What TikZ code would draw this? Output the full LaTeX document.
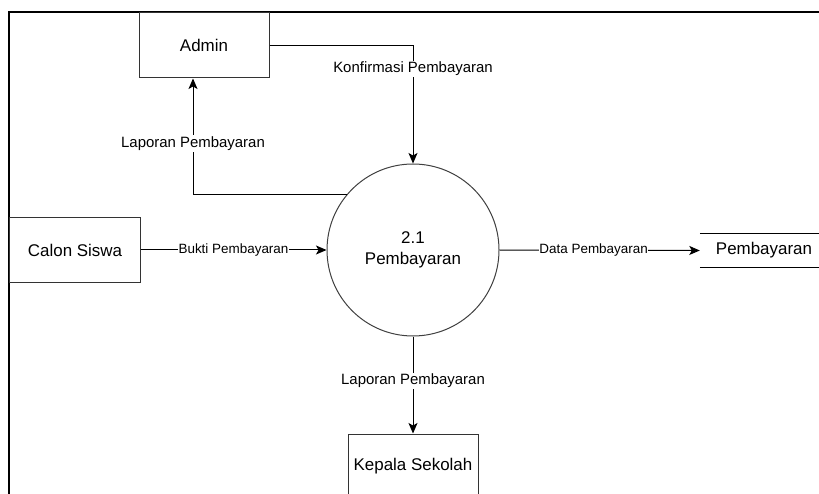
\documentclass[tikz,border=0pt]{standalone}
\usepackage{fontspec}
\setmainfont{Liberation Sans}
\usetikzlibrary{arrows.meta}

\tikzset{
  entity/.style={draw=black!80, line width=1bp, minimum width=130bp,
    inner sep=0pt, font=\fontsize{17}{20}\selectfont},
  process/.style={circle, draw=black!75, line width=1bp, minimum size=172bp,
    inner sep=0pt, align=center, font=\fontsize{17}{21}\selectfont},
  store/.style={minimum width=128bp, minimum height=33bp, inner sep=0pt,
    font=\fontsize{17}{20}\selectfont},
  flow/.style={line width=1bp, -{Stealth[length=10.5bp,width=9bp,inset=2.5bp]}},
  biglabel/.style={fill=white, inner sep=1.2bp, font=\fontsize{15}{17}\selectfont},
  smalllabel/.style={fill=white, inner sep=0.4bp, font=\fontsize{13.5}{15}\selectfont},
}

\begin{document}
\begin{tikzpicture}[x=1bp, y=-1bp]
  \useasboundingbox (0,0) rectangle (819,494);
  \clip (0,0) rectangle (819,494);

  % outer frame (top and left edges)
  \draw[line width=2bp] (819,12) -- (9,12) -- (9,494);

  % external entities
  \node[entity, minimum height=65bp] (admin) at (204,45.5) {Admin};
  \node[entity, minimum height=64bp] (calon) at (75,250) {Calon Siswa};
  \node[entity, minimum height=64bp] (kepala) at (413,466) {Kepala Sekolah};

  % process
  \node[process] (proc) at (413,250) {2.1\\Pembayaran};

  % data store
  \node[store] (ds) at (764,250.5) {Pembayaran};
  \draw[line width=1bp] (ds.north west) -- (ds.north east);
  \draw[line width=1bp] (ds.south west) -- (ds.south east);

  % data flows
  \draw[flow] (admin.east) -| (proc.north)
    node[biglabel, pos=0.6] {Konfirmasi Pembayaran};
  \draw[flow] (proc.140) -| ([xshift=-11bp]admin.south)
    node[biglabel, pos=0.72] {Laporan Pembayaran};
  \draw[flow] (calon.east) -- (proc.west)
    node[smalllabel, pos=0.5] {Bukti Pembayaran};
  \draw[flow] (proc.east) -- (ds.west)
    node[smalllabel, pos=0.47] {Data Pembayaran};
  \draw[flow] (proc.south) -- (kepala.north)
    node[biglabel, pos=0.46] {Laporan Pembayaran};
\end{tikzpicture}
\end{document}
